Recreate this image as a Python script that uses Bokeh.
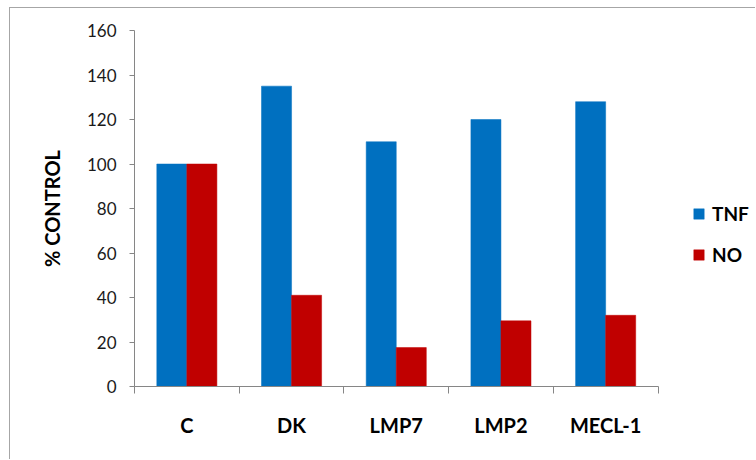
from bokeh.plotting import figure
from bokeh.models import (ColumnDataSource, FixedTicker, Range1d, Legend, LegendItem,
                          InlineStyleSheet)
from bokeh.embed import file_html
from bokeh.resources import INLINE

# Data
categories = ["C", "DK", "LMP7", "LMP2", "MECL-1"]
tnf = [100, 135, 110, 120, 128]
no = [100, 41, 17.5, 29.5, 32]
y_ticks = [0, 20, 40, 60, 80, 100, 120, 140, 160]

BLUE = "#0070C0"
RED = "#C00000"
AXIS_GRAY = "#868686"
FONT = "Lato"

# Layout in pixels: the frame runs to the right edge so the legend fits in it,
# while the category axis only spans the bar area.
W, H = 756, 460
LEFT, TOP, BOTTOM = 134, 30, 74
BAR_AREA_W = 523.5
FRAME_W = W - LEFT
n = len(categories)
x_end = n * FRAME_W / BAR_AREA_W

bar_w = 0.287
centers = [i + 0.5 for i in range(n)]

src = ColumnDataSource(dict(
    x_tnf=[c - bar_w / 2 for c in centers],
    x_no=[c + bar_w / 2 for c in centers],
    tnf=tnf,
    no=no,
))

p = figure(width=W, height=H, output_backend="svg", toolbar_location=None,
           x_range=Range1d(0, x_end), y_range=Range1d(0, 160),
           min_border_left=LEFT, min_border_right=0, min_border_top=TOP,
           min_border_bottom=BOTTOM)

r_tnf = p.vbar(x="x_tnf", top="tnf", width=bar_w, source=src,
               fill_color=BLUE, line_color=BLUE, line_width=0.5)
r_no = p.vbar(x="x_no", top="no", width=bar_w, source=src,
              fill_color=RED, line_color=RED, line_width=0.5)

p.xgrid.visible = False
p.ygrid.visible = False
p.outline_line_color = None
p.background_fill_color = "white"
p.border_fill_color = "white"

# Y axis
ya = p.yaxis[0]
ya.ticker = FixedTicker(ticks=y_ticks)
ya.axis_line_color = AXIS_GRAY
ya.major_tick_line_color = AXIS_GRAY
ya.major_tick_in = 0
ya.major_tick_out = 5
ya.minor_tick_line_color = None
ya.major_label_standoff = 13
ya.major_label_text_font = FONT
ya.major_label_text_font_size = "17px"
ya.major_label_text_color = "#1a1a1a"
ya.axis_label = "% CONTROL"
ya.axis_label_text_font = FONT
ya.axis_label_text_font_size = "20px"
ya.axis_label_text_font_style = "bold"
ya.axis_label_text_color = "#000000"
ya.axis_label_standoff = 20

# X axis: labels at category centres, tick marks at category boundaries
xa = p.xaxis[0]
xa.bounds = (0, n)
xa.ticker = FixedTicker(ticks=centers, minor_ticks=list(range(n + 1)))
xa.major_label_overrides = {c: name for c, name in zip(centers, categories)}
xa.axis_line_color = AXIS_GRAY
xa.major_tick_line_color = None
xa.major_tick_in = 0
xa.major_tick_out = 0
xa.minor_tick_line_color = AXIS_GRAY
xa.minor_tick_in = 0
xa.minor_tick_out = 7
xa.major_label_standoff = 19
xa.major_label_text_font = FONT
xa.major_label_text_font_size = "20px"
xa.major_label_text_font_style = "bold"
xa.major_label_text_color = "#000000"

# Legend to the right of the bars
legend = Legend(items=[LegendItem(label="TNF", renderers=[r_tnf]),
                       LegendItem(label="NO", renderers=[r_no])],
                location=(558, 120), orientation="vertical",
                glyph_width=13, glyph_height=13, label_standoff=7,
                spacing=18, padding=0, margin=0,
                border_line_color=None, background_fill_alpha=0,
                label_text_font=FONT, label_text_font_size="19px",
                label_text_font_style="bold", label_text_color="#000000")
p.add_layout(legend, "center")

# Chart-area border (top and left edges fall inside the page)
p.stylesheets.append(InlineStyleSheet(css="""
:host::after {
  content: "";
  position: absolute;
  left: 9px;
  top: 7px;
  width: 745px;
  height: 451px;
  border-left: 1.5px solid #a6a6a6;
  border-top: 1.5px solid #a6a6a6;
  pointer-events: none;
  z-index: 10;
}
"""))

open("out.html", "w").write(file_html(p, INLINE))
